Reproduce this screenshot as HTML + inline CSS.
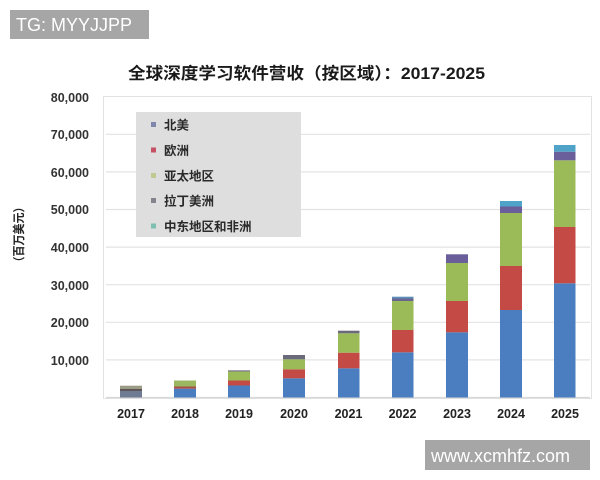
<!DOCTYPE html>
<html>
<head>
<meta charset="utf-8">
<style>
  html, body { margin:0; padding:0; background:#fff; }
  body { width:600px; height:480px; overflow:hidden; position:relative; }
  svg { position:absolute; left:0; top:0; }
  text { font-family: "Liberation Sans", "Noto Sans CJK SC", sans-serif; }
</style>
</head>
<body>
<svg width="600" height="480" viewBox="0 0 600 480" xmlns="http://www.w3.org/2000/svg">
  <rect x="0" y="0" width="600" height="480" fill="#ffffff"/>

  <!-- watermark top-left -->
  <rect x="10" y="10" width="139" height="29" fill="#a6a6a6"/>
  <text x="16" y="31" font-size="18" fill="#ffffff">TG: MYYJJPP</text>

  <!-- title -->
  <text x="128" y="79" font-size="16.5" font-weight="bold" fill="#1a1a1a" textLength="357" lengthAdjust="spacingAndGlyphs">全球深度学习软件营收（按区域）：2017-2025</text>

  <!-- plot frame -->
  <rect x="103.5" y="96.5" width="488" height="302" fill="#ffffff" stroke="#e2e2e2" stroke-width="1"/>

  <!-- gridlines -->
  <g stroke="#e3e3e3" stroke-width="1.2">
    <line x1="106" y1="134.3" x2="590" y2="134.3"/>
    <line x1="106" y1="171.9" x2="590" y2="171.9"/>
    <line x1="106" y1="209.5" x2="590" y2="209.5"/>
    <line x1="106" y1="247.1" x2="590" y2="247.1"/>
    <line x1="106" y1="284.7" x2="590" y2="284.7"/>
    <line x1="106" y1="322.3" x2="590" y2="322.3"/>
    <line x1="106" y1="359.9" x2="590" y2="359.9"/>
    <line x1="106" y1="397.5" x2="590" y2="397.5" stroke="#d8d8d8"/>
  </g>

  <!-- y tick labels -->
  <g font-size="12.5" font-weight="bold" fill="#333" text-anchor="end">
    <text x="89" y="102">80,000</text>
    <text x="89" y="139">70,000</text>
    <text x="89" y="177">60,000</text>
    <text x="89" y="214">50,000</text>
    <text x="89" y="252">40,000</text>
    <text x="89" y="290">30,000</text>
    <text x="89" y="327">20,000</text>
    <text x="89" y="365">10,000</text>
  </g>

  <!-- y axis title -->
  <text transform="translate(23,234.5) rotate(-90)" x="0" y="0" font-size="12" font-weight="bold" fill="#222" text-anchor="middle" textLength="66" lengthAdjust="spacingAndGlyphs">（百万美元）</text>

  <!-- bars -->
  <!-- 2017 -->
  <rect x="120" y="391" width="22" height="6.5" fill="#6f7a93"/>
  <rect x="120" y="389" width="22" height="2" fill="#5e5656"/>
  <rect x="120" y="385.7" width="22" height="3.3" fill="#9c9c86"/>
  <!-- 2018 -->
  <rect x="174" y="388.7" width="22" height="8.8" fill="#4a7ec0"/>
  <rect x="174" y="386.5" width="22" height="2.2" fill="#a85048"/>
  <rect x="174" y="380.5" width="22" height="6" fill="#9bb760"/>
  <!-- 2019 -->
  <rect x="228" y="385.5" width="22" height="12" fill="#4a7ec0"/>
  <rect x="228" y="380.5" width="22" height="5" fill="#c44a46"/>
  <rect x="228" y="371.5" width="22" height="9" fill="#9bbb59"/>
  <rect x="228" y="370.3" width="22" height="1.2" fill="#7a7390"/>
  <!-- 2020 -->
  <rect x="283" y="378.3" width="22" height="19.2" fill="#4a7ec0"/>
  <rect x="283" y="369.3" width="22" height="9" fill="#c44a46"/>
  <rect x="283" y="359.3" width="22" height="10" fill="#9bbb59"/>
  <rect x="283" y="355" width="22" height="4.3" fill="#6b6a7a"/>
  <!-- 2021 -->
  <rect x="338" y="368.3" width="21.5" height="29.2" fill="#4a7ec0"/>
  <rect x="338" y="352.7" width="21.5" height="15.6" fill="#c44a46"/>
  <rect x="338" y="333.3" width="21.5" height="19.4" fill="#9bbb59"/>
  <rect x="338" y="330.7" width="21.5" height="2.6" fill="#6b6a7a"/>
  <!-- 2022 -->
  <rect x="392" y="352.3" width="21.5" height="45.2" fill="#4a7ec0"/>
  <rect x="392" y="330" width="21.5" height="22.3" fill="#c44a46"/>
  <rect x="392" y="301" width="21.5" height="29" fill="#9bbb59"/>
  <rect x="392" y="298.5" width="21.5" height="2.5" fill="#6a6590"/>
  <rect x="392" y="296.7" width="21.5" height="1.8" fill="#5b8fb8"/>
  <!-- 2023 -->
  <rect x="446" y="332.3" width="22" height="65.2" fill="#4a7ec0"/>
  <rect x="446" y="301" width="22" height="31.3" fill="#c44a46"/>
  <rect x="446" y="263" width="22" height="38" fill="#9bbb59"/>
  <rect x="446" y="254.3" width="22" height="8.7" fill="#6a5f9a"/>
  <!-- 2024 -->
  <rect x="500" y="310" width="22" height="87.5" fill="#4a7ec0"/>
  <rect x="500" y="266" width="22" height="44" fill="#c44a46"/>
  <rect x="500" y="213" width="22" height="53" fill="#9bbb59"/>
  <rect x="500" y="206.5" width="22" height="6.5" fill="#6a5f9a"/>
  <rect x="500" y="201" width="22" height="5.5" fill="#4fa3c8"/>
  <!-- 2025 -->
  <rect x="554" y="283.3" width="21.5" height="114.2" fill="#4a7ec0"/>
  <rect x="554" y="227" width="21.5" height="56.3" fill="#c44a46"/>
  <rect x="554" y="160.3" width="21.5" height="66.7" fill="#9bbb59"/>
  <rect x="554" y="151.7" width="21.5" height="8.6" fill="#6a5f9a"/>
  <rect x="554" y="145" width="21.5" height="6.7" fill="#4fa3c8"/>

  <!-- x labels -->
  <g font-size="12.5" font-weight="bold" fill="#222" text-anchor="middle">
    <text x="131" y="418">2017</text>
    <text x="185" y="418">2018</text>
    <text x="239" y="418">2019</text>
    <text x="294" y="418">2020</text>
    <text x="348.5" y="418">2021</text>
    <text x="402.5" y="418">2022</text>
    <text x="457" y="418">2023</text>
    <text x="511" y="418">2024</text>
    <text x="565" y="418">2025</text>
  </g>

  <!-- legend -->
  <rect x="136" y="112" width="165" height="125" fill="#dedede"/>
  <rect x="151" y="122" width="5" height="5" fill="#7f87ad"/>
  <rect x="151" y="147.5" width="5" height="5" fill="#c45264"/>
  <rect x="151" y="173" width="5" height="5" fill="#c2c892"/>
  <rect x="151" y="198" width="5" height="5" fill="#85838e"/>
  <rect x="151" y="223.5" width="5" height="5" fill="#7fbfb2"/>
  <g font-size="12.5" font-weight="bold" fill="#2a2a2a">
    <text x="164" y="129.5">北美</text>
    <text x="164" y="155">欧洲</text>
    <text x="164" y="180.5">亚太地区</text>
    <text x="164" y="205.5">拉丁美洲</text>
    <text x="164" y="231">中东地区和非洲</text>
  </g>

  <!-- watermark bottom-right -->
  <rect x="425" y="440" width="165" height="30" fill="#a6a6a6"/>
  <text x="431" y="462" font-size="18" fill="#ffffff">www.xcmhfz.com</text>
</svg>
</body>
</html>
